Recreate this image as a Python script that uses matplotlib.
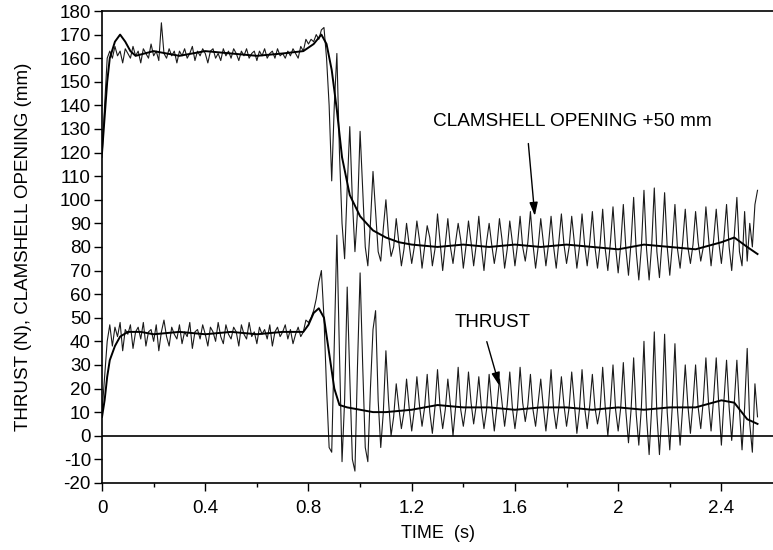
import numpy as np
import matplotlib.pyplot as plt

plt.rcParams['font.family'] = ['Liberation Sans', 'DejaVu Sans']
plt.rcParams['axes.unicode_minus'] = False

# Amostragem dos sinais brutos (s)
DT = 0.01

# Abertura da concha +50 mm, sinal bruto (um valor a cada DT a partir de t=0)
abertura_bruta = [
    118, 140, 160, 163, 160, 165, 161, 163, 158, 164,
    162, 160, 165, 161, 163, 158, 164, 162, 160, 166,
    161, 163, 159, 175, 162, 160, 164, 161, 163, 158,
    163, 161, 164, 160, 162, 165, 159, 163, 161, 164,
    162, 158, 163, 164, 160, 162, 159, 164, 161, 163,
    160, 164, 162, 159, 163, 161, 164, 160, 162, 163,
    159, 163, 161, 164, 160, 162, 163, 160, 164, 161,
    162, 160, 163, 161, 164, 162, 160, 165, 163, 168,
    166, 168, 167, 170, 168, 172, 173, 160, 140, 108,
    140, 162, 120, 90, 75, 105, 131, 100, 78, 95,
    129, 105, 80, 72, 90, 112, 95, 78, 74, 88,
    100, 85, 76, 80, 92, 82, 72, 79, 90, 81,
    73, 80, 91, 83, 71, 80, 89, 84, 72, 79,
    94, 82, 70, 81, 92, 80, 73, 82, 90, 83,
    71, 80, 91, 82, 72, 81, 93, 80, 70, 82,
    90, 81, 73, 80, 92, 83, 71, 79, 91, 82,
    72, 81, 93, 80, 74, 82, 95, 81, 71, 80,
    92, 82, 72, 81, 93, 80, 71, 82, 94, 81,
    73, 80, 93, 82, 71, 80, 94, 81, 72, 82,
    95, 80, 71, 81, 96, 79, 70, 82, 97, 80,
    69, 81, 98, 79, 68, 82, 101, 78, 66, 80,
    104, 79, 66, 81, 105, 78, 67, 82, 103, 80,
    68, 81, 98, 79, 71, 82, 96, 80, 73, 81,
    95, 82, 74, 80, 97, 84, 72, 83, 96, 82,
    73, 84, 98, 80, 70, 85, 101, 78, 72, 95,
    74, 90, 80, 98, 104,
]

# Empuxo, sinal bruto
empuxo_bruto = [
    10, 25, 40, 47, 38, 46, 42, 48, 36, 45,
    43, 47, 37, 44, 46, 41, 48, 38, 44, 45,
    40, 47, 36, 44, 49, 42, 38, 46, 43, 41,
    47, 39, 44, 42, 48, 37, 44, 45, 41, 47,
    43, 38, 46, 44, 40, 48, 42, 39, 47, 43,
    41, 46, 44, 38, 47, 43, 41, 48, 42, 44,
    39, 46, 43, 45, 41, 47, 38, 44, 46, 42,
    44, 47, 41, 45, 39, 43, 46, 42, 44, 49,
    48, 50, 53, 58, 65, 70, 50, 20, -5, -7,
    40, 85, 35, -11, 15, 63, 25, -10, -15, 30,
    69, 30, -5, -11, 20, 45, 53, 15, -5, 10,
    36, 15, 0, 8, 22, 12, 3, 10, 24, 12,
    2, 11, 25, 13, 4, 12, 26, 10, 1, 12,
    28, 12, 3, 11, 24, 13, 0, 12, 29, 11,
    4, 12, 27, 14, 5, 13, 25, 12, 3, 11,
    26, 13, 2, 12, 24, 14, 4, 13, 27, 12,
    3, 12, 29, 14, 6, 13, 26, 11, 4, 14,
    24, 12, 2, 13, 28, 11, 3, 12, 25, 13,
    4, 12, 27, 14, 1, 11, 28, 12, 3, 13,
    26, 12, 5, 11, 29, 12, 0, 13, 30, 11,
    2, 12, 31, 10, -3, 11, 33, 9, -4, 12,
    40, 8, -8, 12, 44, 9, -8, 11, 43, 10,
    -6, 13, 39, 11, -4, 12, 30, 13, 1, 14,
    30, 12, 3, 15, 33, 14, 2, 16, 33, 13,
    -4, 15, 32, 12, -2, 14, 32, 11, -6, 12,
    37, 5, -7, 22, 8,
]

# Curvas filtradas (tempo, valor)
t_abertura_filtrada = [0, 0.01, 0.02, 0.03, 0.05, 0.07, 0.09, 0.11, 0.13, 0.2,
                       0.3, 0.4, 0.5, 0.6, 0.7, 0.78, 0.82, 0.85, 0.87, 0.89,
                       0.91, 0.93, 0.96, 1.0, 1.05, 1.1, 1.15, 1.2, 1.3, 1.4,
                       1.5, 1.6, 1.7, 1.8, 1.9, 2.0, 2.1, 2.2, 2.3, 2.4,
                       2.45, 2.5, 2.54]
abertura_filtrada = [120, 135, 150, 160, 167, 170, 167, 163, 161, 163,
                     161, 163, 162, 161, 162, 163, 166, 170, 166, 155,
                     138, 118, 102, 93, 87, 84, 82, 81, 80, 81,
                     80, 81, 80, 81, 80, 79, 81, 80, 79, 82,
                     84, 80, 77]

t_empuxo_filtrado = [0, 0.01, 0.02, 0.03, 0.05, 0.07, 0.1, 0.15, 0.2, 0.3,
                     0.4, 0.5, 0.6, 0.7, 0.78, 0.8, 0.82, 0.84, 0.86, 0.88,
                     0.9, 0.92, 0.95, 1.0, 1.05, 1.1, 1.2, 1.3, 1.4, 1.5,
                     1.6, 1.7, 1.8, 1.9, 2.0, 2.1, 2.2, 2.3, 2.4, 2.45,
                     2.5, 2.54]
empuxo_filtrado = [8, 15, 25, 32, 38, 42, 44, 44, 43, 44,
                   43, 44, 43, 44, 44, 47, 52, 54, 50, 35,
                   20, 13, 12, 11, 10, 10, 11, 13, 12, 12,
                   11, 12, 12, 11, 12, 11, 12, 12, 15, 14,
                   7, 5]

t_bruto_ab = np.arange(len(abertura_bruta)) * DT
t_bruto_em = np.arange(len(empuxo_bruto)) * DT

fig = plt.figure(figsize=(7.73, 5.5), dpi=100)
ax = fig.add_axes([0.132, 0.122, 0.868, 0.858])

ax.plot(t_bruto_ab, abertura_bruta, color='#1a1a1a', lw=0.8)
ax.plot(t_bruto_em, empuxo_bruto, color='#1a1a1a', lw=0.8)
ax.plot(t_abertura_filtrada, abertura_filtrada, color='black', lw=1.4)
ax.plot(t_empuxo_filtrado, empuxo_filtrado, color='black', lw=1.4)
ax.axhline(0, color='black', lw=1.2)

ax.set_xlim(0, 2.6)
ax.set_ylim(-20, 180)
ax.set_xticks([0, 0.4, 0.8, 1.2, 1.6, 2, 2.4])
ax.set_xticklabels(['0', '0.4', '0.8', '1.2', '1.6', '2', '2.4'])
ax.set_xticks(np.arange(0.2, 2.6, 0.4), minor=True)
ax.set_yticks(np.arange(-20, 181, 10))
ax.tick_params(axis='both', labelsize=13.5, direction='out', length=6, width=1)
ax.tick_params(axis='x', pad=6)
ax.tick_params(axis='y', pad=2)
ax.tick_params(axis='x', which='minor', length=3, width=1)
ax.spines['right'].set_visible(False)
for s in ['left', 'top', 'bottom']:
    ax.spines[s].set_linewidth(1.2)

ax.set_xlabel('TIME  (s)', fontsize=13, labelpad=6)
ax.set_ylabel('THRUST (N), CLAMSHELL OPENING (mm)', fontsize=13.5, labelpad=20)

seta = dict(arrowstyle='-|>,head_length=0.8,head_width=0.25', color='black', lw=1)
ax.annotate('', xy=(1.678, 92), xytext=(1.651, 125), arrowprops=seta)
ax.annotate('', xy=(1.543, 20), xytext=(1.488, 41), arrowprops=seta)
ax.text(1.283, 133, 'CLAMSHELL OPENING +50 mm', fontsize=13.7, va='center')
ax.text(1.368, 48, 'THRUST', fontsize=13.5, va='center')

plt.savefig('out.png', dpi=100)
